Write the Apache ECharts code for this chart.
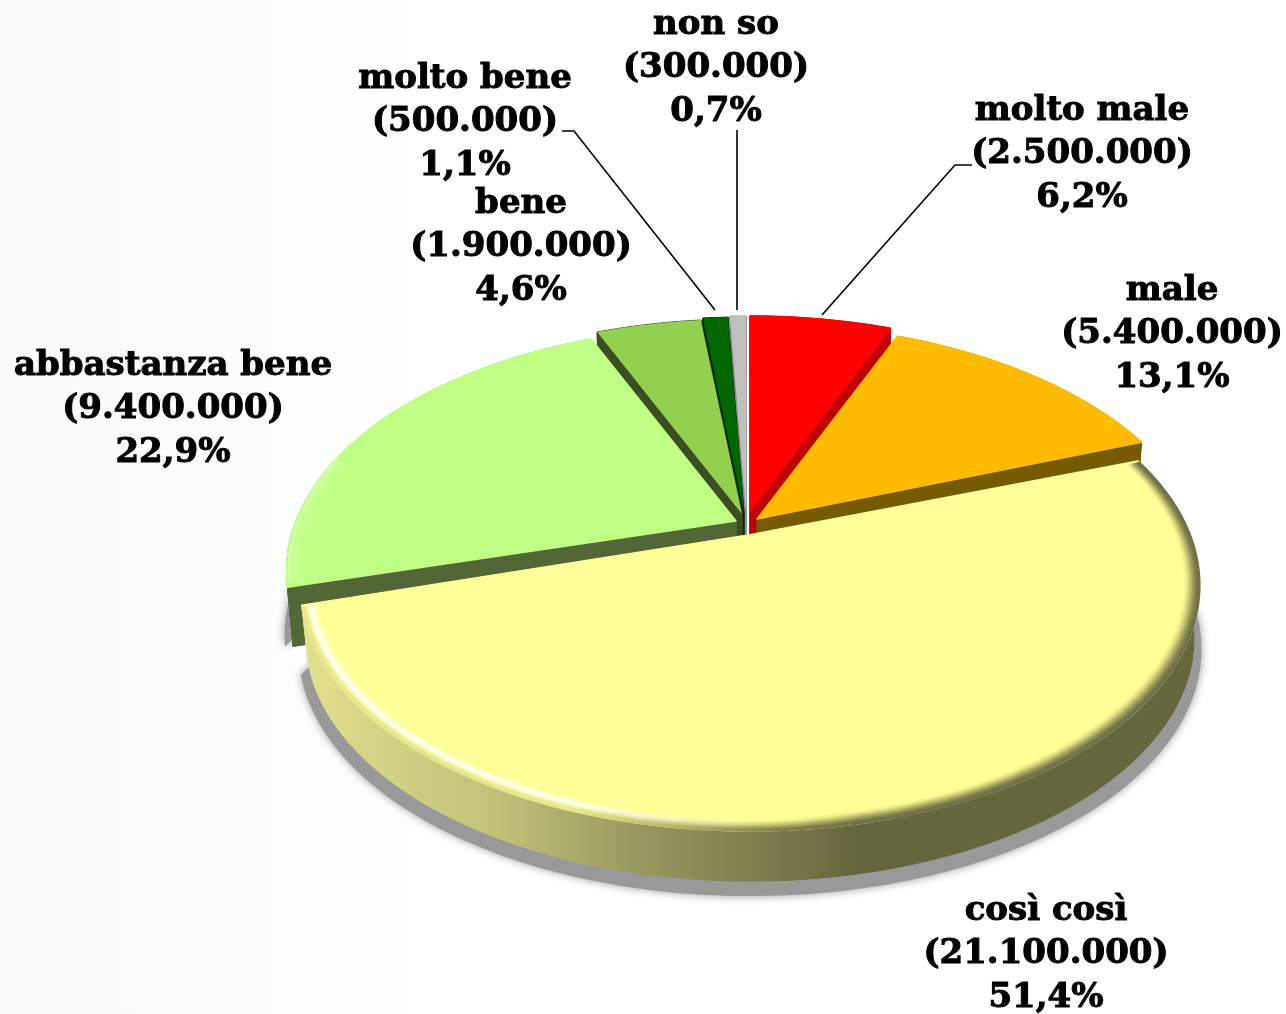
<!DOCTYPE html>
<html><head><meta charset="utf-8">
<style>html,body{margin:0;padding:0;background:#fff}#c{width:1286px;height:1014px}</style>
<script src="https://cdn.jsdelivr.net/npm/echarts@6/dist/echarts.min.js"></script>
</head><body><div id="c"></div>
<script>
// data
const categories = ['molto male','male','così così','abbastanza bene','bene','molto bene','non so'];
const people = [2500000,5400000,21100000,9400000,1900000,500000,300000];
const percent = [6.2,13.1,51.4,22.9,4.6,1.1,0.7];
// styling
const topColors = ['#ff0000','#ffbb00','#ffff99','#bfff85','#92d050','#006600','#bfbfbf'];
const wallColors = ['#c00000','#765a00','#66663c','#536636','#3c4f20','#002a00','#8a8a8a'];
const apexes = [[750,511],[757,519],[750,535],[736,521],[742,514],[744,512],[746,511]];
const drawOrder = [4,5,8,6,3,2,1]; // back first, yellow last
const labelCenters = [[1082,111],[1172,291],[1046,911],[173,366],[521,204],[465,79],[716,25]];
const leaders = [[[972,165],[955,165],[822,315]],null,null,null,null,[[562,131],[574,131],[715,310]],[[737,130],[737,310]]];
const A=440,T=235,K=0.205,DEPTH=55,LINE=43.6;

function proj(apex,th,r){
  const X=r*Math.sin(th),Y=r*Math.cos(th),d=1+K*Y;
  return [apex[0]+A*X/d, apex[1]-T*Y/d];
}
function arc(apex,a0,a1,r,dy){
  const n=Math.max(4,Math.ceil((a1-a0)/0.02)),pts=[];
  for(let i=0;i<=n;i++){const p=proj(apex,a0+(a1-a0)*i/n,r);pts.push([p[0],p[1]+(dy||0)]);}
  return pts;
}
const fmt=n=>String(n).replace(/\B(?=(\d{3})+$)/g,'.');
const G=(x0,x1,stops)=>new echarts.graphic.LinearGradient(x0,0,x1,0,stops.map(s=>({offset:s[0],color:s[1]})),true);
const yellowWall=()=>G(305,1200,[[0,'#e0e08e'],[0.218,'#c0c078'],[0.397,'#92925a'],[0.553,'#78744a'],[0.609,'#66663c'],[1,'#66663c']]);
const hex=c=>[1,3,5].map(i=>parseInt(c.substr(i,2),16));
const mix=(a,b,t)=>{const x=hex(a),y=hex(b);return 'rgb('+x.map((v,i)=>Math.round(v+(y[i]-v)*t)).join(',')+')';};
const rampL=['#e6e68c','#f2f298','#fffff0','#ffffe0','#ffffb4','#ffff99'];
const rampR=['#70704a','#85854e','#a8a860','#cfcf78','#eeee8c','#ffff99'];
const ramp=(r,u)=>{const p=u*(r.length-1),k=Math.min(Math.floor(p),r.length-2);return mix(r[k],r[k+1],p-k);};

function renderItem(params,api){
  const i=params.dataIndex, val=api.value(0);
  let before=0; for(let j=0;j<i;j++) before+=percent[j];
  const trim=i===2?0.016:0;
  const a0=before/100*2*Math.PI+trim, a1=(before+val)/100*2*Math.PI-trim;
  const ap=apexes[i], z=drawOrder[i]*100, ch=[];
  const depth=i===3?DEPTH+5:DEPTH;
  const rim=arc(ap,a0,a1,1,0), low=arc(ap,a0,a1,0.988,depth);
  const wf=i===2?yellowWall():wallColors[i];
  // soft ground shadow
  if(i===2||i===3){
    const s=arc(ap,a0+0.02,a1-0.02,1.004,DEPTH+9);
    const inner=arc(ap,a0+0.02,a1-0.02,0.9,DEPTH-30).reverse();
    ch.push({type:'polygon',z2:1,shape:{points:s.concat(inner)},style:{fill:'#999999',shadowBlur:8,shadowColor:'#999999'}});
  }
  // side wall under the rim
  ch.push({type:'polygon',z2:z,shape:{points:rim.concat(low.slice().reverse())},style:{fill:wf,stroke:wf,lineWidth:1,lineJoin:'round'}});
  // two cut walls
  [[rim[0],low[0]],[rim[rim.length-1],low[low.length-1]]].forEach(p=>{
    ch.push({type:'polygon',z2:z,shape:{points:[ap,p[0],p[1],[ap[0],ap[1]+depth]]},style:{fill:wf,stroke:wf,lineWidth:1,lineJoin:'round'}});
  });
  // top face
  ch.push({type:'polygon',z2:z+1,shape:{points:[ap].concat(rim)},style:{fill:topColors[i],stroke:topColors[i],lineWidth:i===2?2:(i>=4?0:1.5),lineJoin:'round'}});
  // rim bevel: inner bands first, outer on top
  if(i===2){
    const N=12;
    for(let b=N-1;b>=0;b--){
      const u=b/(N-1), r=0.999-u*0.032;
      const cL=ramp(rampL,u), cR=ramp(rampR,u);
      ch.push({type:'polyline',z2:z+2+(N-b),shape:{points:arc(ap,a0+0.006,a1-0.006,r,0)},
        style:{fill:'none',lineWidth:3,stroke:G(305,1200,[[0,cL],[0.3,cL],[0.52,ramp(rampR,Math.min(1,u+0.2))],[0.62,cR],[1,cR]])}});
    }
  }
  if(i===3){
    ['#cfffa0','#c8ff94','#c2ff8a'].forEach((c,b)=>{
      ch.push({type:'polyline',z2:z+2,shape:{points:arc(ap,a0+0.01,a0+0.55,0.994-b*0.012,0)},style:{fill:'none',lineWidth:4,stroke:c}});
    });
  }
  // leader
  if(leaders[i]) ch.push({type:'polyline',z2:2000,shape:{points:leaders[i]},style:{fill:'none',stroke:'#000',lineWidth:1.6}});
  // label, three centred lines
  const lines=[categories[i],'('+fmt(people[i])+')',String(val).replace('.',',')+'%'];
  lines.forEach((t,k)=>{
    ch.push({type:'text',z2:2001,style:{text:t,x:labelCenters[i][0],y:labelCenters[i][1]+k*LINE,
      fill:'#000',stroke:'#000',lineWidth:1,font:'bold 34px "DejaVu Serif"',textAlign:'center',textVerticalAlign:'middle'}});
  });
  return {type:'group',children:ch};
}
const chart=echarts.init(document.getElementById('c'),null,{renderer:'canvas'});
chart.setOption({
  animation:false,
  backgroundColor:new echarts.graphic.LinearGradient(0,0,1,0,[{offset:0,color:'#fafafa'},{offset:0.25,color:'#fdfdfd'},{offset:0.4,color:'#ffffff'},{offset:1,color:'#ffffff'}]),
  series:[{type:'custom',coordinateSystem:'none',renderItem,data:percent.map((v,i)=>({value:[v],name:categories[i]})),silent:true,clip:false}]
});
</script></body></html>
